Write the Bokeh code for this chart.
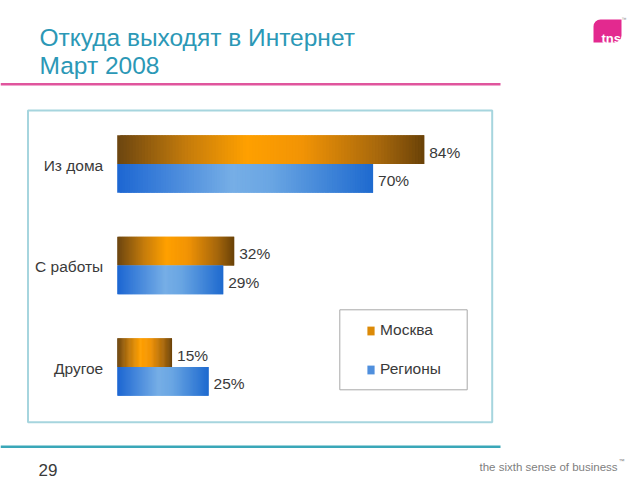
from bokeh.plotting import figure
from bokeh.models import (FactorRange, Range1d, Label, BoxAnnotation, Legend,
                          LegendItem, ColumnDataSource)
from bokeh.transform import dodge
from bokeh.core.properties import value
from bokeh.embed import file_html
from bokeh.resources import INLINE

# ---------------- data ----------------
categories = ["Из дома", "С работы", "Другое"]
series_names = ["Москва", "Регионы"]
moscow = [84, 32, 15]
regions = [70, 29, 25]

title_lines = ["Откуда выходят в Интернет", "Март 2008"]
page_number = "29"
tagline = "the sixth sense of business"

FONT = "Liberation Sans"
TXT = "#3a3a3a"

# ---------------- figure ----------------
W, H = 640, 480
p = figure(width=W, height=H, output_backend="svg", toolbar_location=None,
           x_range=Range1d(-31.93, 143.17),
           y_range=FactorRange(factors=categories[::-1], range_padding=0.5764),
           x_axis_location=None, y_axis_location=None,
           min_border_left=0, min_border_right=0,
           min_border_top=0, min_border_bottom=0)
p.grid.visible = False
p.outline_line_color = None
p.background_fill_color = "white"
p.border_fill_color = "white"


def hex2rgb(h):
    h = h.lstrip("#")
    return tuple(int(h[i:i + 2], 16) for i in (0, 2, 4))


def grad(stops, t):
    for (t0, c0), (t1, c1) in zip(stops[:-1], stops[1:]):
        if t0 <= t <= t1:
            a = (t - t0) / (t1 - t0) if t1 > t0 else 0
            r0, g0, b0 = hex2rgb(c0)
            r1, g1, b1 = hex2rgb(c1)
            return "#%02x%02x%02x" % (round(r0 + (r1 - r0) * a),
                                      round(g0 + (g1 - g0) * a),
                                      round(b0 + (b1 - b0) * a))
    return stops[-1][1]


orange_stops = [(0.0, "#6b4510"), (0.22, "#c27a0c"), (0.42, "#ffa000"),
                (0.6, "#f29405"), (0.85, "#a8680c"), (1.0, "#6a4208")]
blue_stops = [(0.0, "#1c66d2"), (0.45, "#76aee6"), (0.6, "#6aa6e3"),
              (1.0, "#1e6acf")]

N = 100


def slices(vals, stops):
    d = dict(y=[], left=[], right=[], color=[])
    for cat, v in zip(categories, vals):
        for i in range(N):
            t = (i + 0.5) / N
            d["y"].append(cat)
            d["left"].append(v * i / N)
            d["right"].append(v * min(i + 2, N) / N)
            d["color"].append(grad(stops, t))
    return ColumnDataSource(d)


SHIFT = -0.2463
OFF = 0.1419
BH = 0.2837

# chart frame box (drawn first)
p.add_layout(BoxAnnotation(left=27.5, right=491.7, bottom=58.3, top=370,
                           left_units="screen", right_units="screen",
                           top_units="screen", bottom_units="screen",
                           fill_alpha=0, line_color="#a6d5de", line_alpha=1,
                           line_width=2, level="underlay"))

r_m = p.hbar(y=dodge("y", SHIFT + OFF, range=p.y_range), left="left",
             right="right", height=BH, fill_color="color", line_color=None,
             source=slices(moscow, orange_stops))
r_r = p.hbar(y=dodge("y", SHIFT - OFF, range=p.y_range), left="left",
             right="right", height=BH, fill_color="color", line_color=None,
             source=slices(regions, blue_stops))

# category labels
cat_src = ColumnDataSource(dict(y=categories, x=[0] * len(categories)))
p.text(x="x", y=dodge("y", SHIFT, range=p.y_range), text="y", source=cat_src,
       x_offset=-14, y_offset=1.5,
       text_align="right", text_baseline="middle",
       text_font=value(FONT), text_font_size="15.5px", text_color=TXT)

# value labels
val_m = ColumnDataSource(dict(y=categories, x=moscow,
                              t=["%d%%" % v for v in moscow]))
val_r = ColumnDataSource(dict(y=categories, x=regions,
                              t=["%d%%" % v for v in regions]))
for src, off in ((val_m, OFF), (val_r, -OFF)):
    p.text(x="x", y=dodge("y", SHIFT + off, range=p.y_range), text="t",
           source=src, x_offset=5, y_offset=2.5, text_align="left",
           text_baseline="middle", text_font=value(FONT),
           text_font_size="15.5px", text_color=TXT)

# legend box + legend
p.add_layout(BoxAnnotation(left=339.3, right=466.7, bottom=90.7, top=170.7,
                           left_units="screen", right_units="screen",
                           top_units="screen", bottom_units="screen",
                           fill_color="white", fill_alpha=1,
                           line_color="#a8a8a8", line_alpha=1, line_width=1))
legend = Legend(items=[LegendItem(label=series_names[0], renderers=[r_m], index=30),
                       LegendItem(label=series_names[1], renderers=[r_r], index=25)],
                location=(366, 101), orientation="vertical",
                padding=0, margin=0, spacing=19, label_height=20,
                glyph_width=9, glyph_height=11, label_standoff=5,
                label_text_font=FONT, label_text_font_size="15.5px",
                label_text_color=TXT, label_text_baseline="middle",
                border_line_alpha=0, background_fill_alpha=0)
p.add_layout(legend)

# ---------------- slide decorations (screen units) ----------
TEAL = "#2b98b6"
p.add_layout(Label(x=39, y=443.3, x_units="screen", y_units="screen",
                   text=title_lines[0], text_font=FONT, text_font_size="24.5px",
                   text_baseline="alphabetic", text_color=TEAL))
p.add_layout(Label(x=39, y=415, x_units="screen", y_units="screen",
                   text=title_lines[1], text_font=FONT, text_font_size="24.5px",
                   text_baseline="alphabetic", text_color=TEAL))
# pink rule
p.add_layout(BoxAnnotation(left=0, right=500, top=397.5, bottom=395,
                           left_units="screen", right_units="screen",
                           top_units="screen", bottom_units="screen",
                           fill_color="#e0559d", fill_alpha=1, line_color=None))
# teal footer rule
p.add_layout(BoxAnnotation(left=0, right=500, top=35, bottom=32.5,
                           left_units="screen", right_units="screen",
                           top_units="screen", bottom_units="screen",
                           fill_color="#3aa7b8", fill_alpha=1, line_color=None))
# page number
p.add_layout(Label(x=38, y=11, x_units="screen", y_units="screen",
                   text=page_number, text_font=FONT, text_font_size="17px",
                   text_baseline="alphabetic", text_color=TXT))
# tagline
p.add_layout(Label(x=479, y=13.5, x_units="screen", y_units="screen",
                   text=tagline, text_font=FONT, text_font_size="11.5px",
                   text_baseline="alphabetic", text_color="#808080"))
p.add_layout(Label(x=618, y=20, x_units="screen", y_units="screen",
                   text="™", text_font=FONT, text_font_size="6px",
                   text_baseline="alphabetic", text_color="#808080"))
# tns logo
p.add_layout(BoxAnnotation(left=593, right=621, top=461, bottom=438,
                           left_units="screen", right_units="screen",
                           top_units="screen", bottom_units="screen",
                           border_radius=(7, 0, 7, 0),
                           fill_color="#e3298f", fill_alpha=1, line_color=None))
p.add_layout(Label(x=601, y=442, x_units="screen", y_units="screen",
                   text="tns", text_font=FONT, text_font_size="13px",
                   text_font_style="bold", text_baseline="alphabetic",
                   text_color="white"))
p.add_layout(Label(x=621, y=462, x_units="screen", y_units="screen",
                   text="™", text_font=FONT, text_font_size="5px",
                   text_baseline="alphabetic", text_color="#888888"))

open("out.html", "w").write(file_html(p, INLINE))
